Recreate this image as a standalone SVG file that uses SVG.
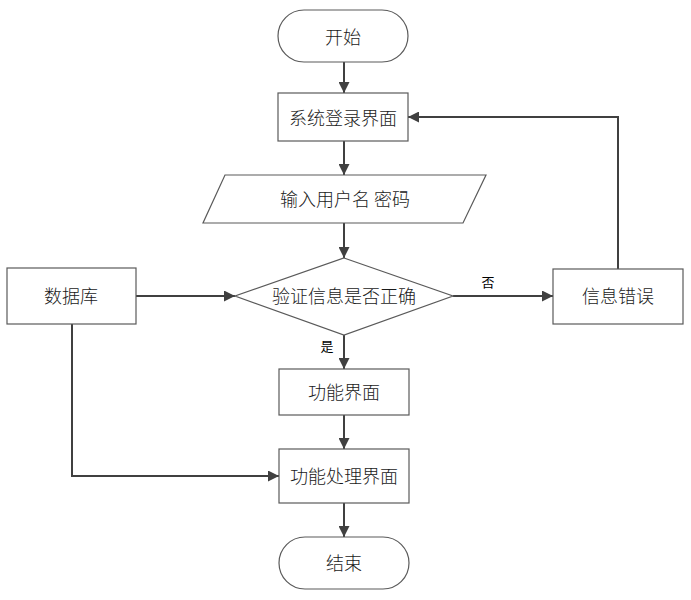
<svg xmlns="http://www.w3.org/2000/svg" width="691" height="600" viewBox="0 0 691 600">
<style>
.s{fill:#fff;stroke:#5a5a5a;stroke-width:1.2}
.t{font-family:"Noto Sans CJK SC","Liberation Sans",sans-serif;font-size:18px;font-weight:300;fill:#1a1a1a;text-anchor:middle;dominant-baseline:central}
.l{font-family:"Noto Sans CJK SC","Liberation Sans",sans-serif;font-size:13px;fill:#000;text-anchor:middle;dominant-baseline:central}
.c{fill:none;stroke:#404040;stroke-width:2}
</style>
<defs>
<marker id="a" viewBox="0 0 10 10" refX="10" refY="5" markerWidth="5.5" markerHeight="5.5" orient="auto" markerUnits="strokeWidth">
<path d="M0,0 L10,5 L0,10 Z" fill="#404040"/>
</marker>
</defs>
<g id="connectors">
<path class="c" d="M344,62 V93" marker-end="url(#a)"/>
<path class="c" d="M344,141 V175" marker-end="url(#a)"/>
<path class="c" d="M344,223 V258" marker-end="url(#a)"/>
<path class="c" d="M136,296 H235" marker-end="url(#a)"/>
<path class="c" d="M453,296 H553" marker-end="url(#a)"/>
<path class="c" d="M618,269 V117 H408" marker-end="url(#a)"/>
<path class="c" d="M344,335 V369" marker-end="url(#a)"/>
<path class="c" d="M344,415 V449" marker-end="url(#a)"/>
<path class="c" d="M72,324 V476 H279" marker-end="url(#a)"/>
<path class="c" d="M344,503 V537" marker-end="url(#a)"/>
<text class="l" x="488" y="281">否</text>
<text class="l" x="327" y="345">是</text>
</g>
<g id="start"><rect class="s" x="278" y="10" width="130" height="52" rx="26"/><text class="t" x="343" y="35.5">开始</text></g>
<g id="login"><rect class="s" x="278" y="93" width="130" height="48"/><text class="t" x="343" y="116.5">系统登录界面</text></g>
<g id="input"><polygon class="s" points="225,175 486,175 463,223 203,223"/><text class="t" x="345" y="198">输入用户名 密码</text></g>
<g id="verify"><polygon class="s" points="344,258 453,296 344,335 235,296"/><text class="t" x="344" y="295">验证信息是否正确</text></g>
<g id="db"><rect class="s" x="7" y="268" width="129" height="56"/><text class="t" x="71" y="295">数据库</text></g>
<g id="error"><rect class="s" x="553" y="269" width="130" height="55"/><text class="t" x="618" y="295">信息错误</text></g>
<g id="func"><rect class="s" x="279" y="369" width="130" height="46"/><text class="t" x="344" y="390.5">功能界面</text></g>
<g id="proc"><rect class="s" x="279" y="449" width="130" height="54"/><text class="t" x="344" y="474.5">功能处理界面</text></g>
<g id="end"><rect class="s" x="279" y="537" width="130" height="52" rx="26"/><text class="t" x="344" y="561.5">结束</text></g>
</svg>
